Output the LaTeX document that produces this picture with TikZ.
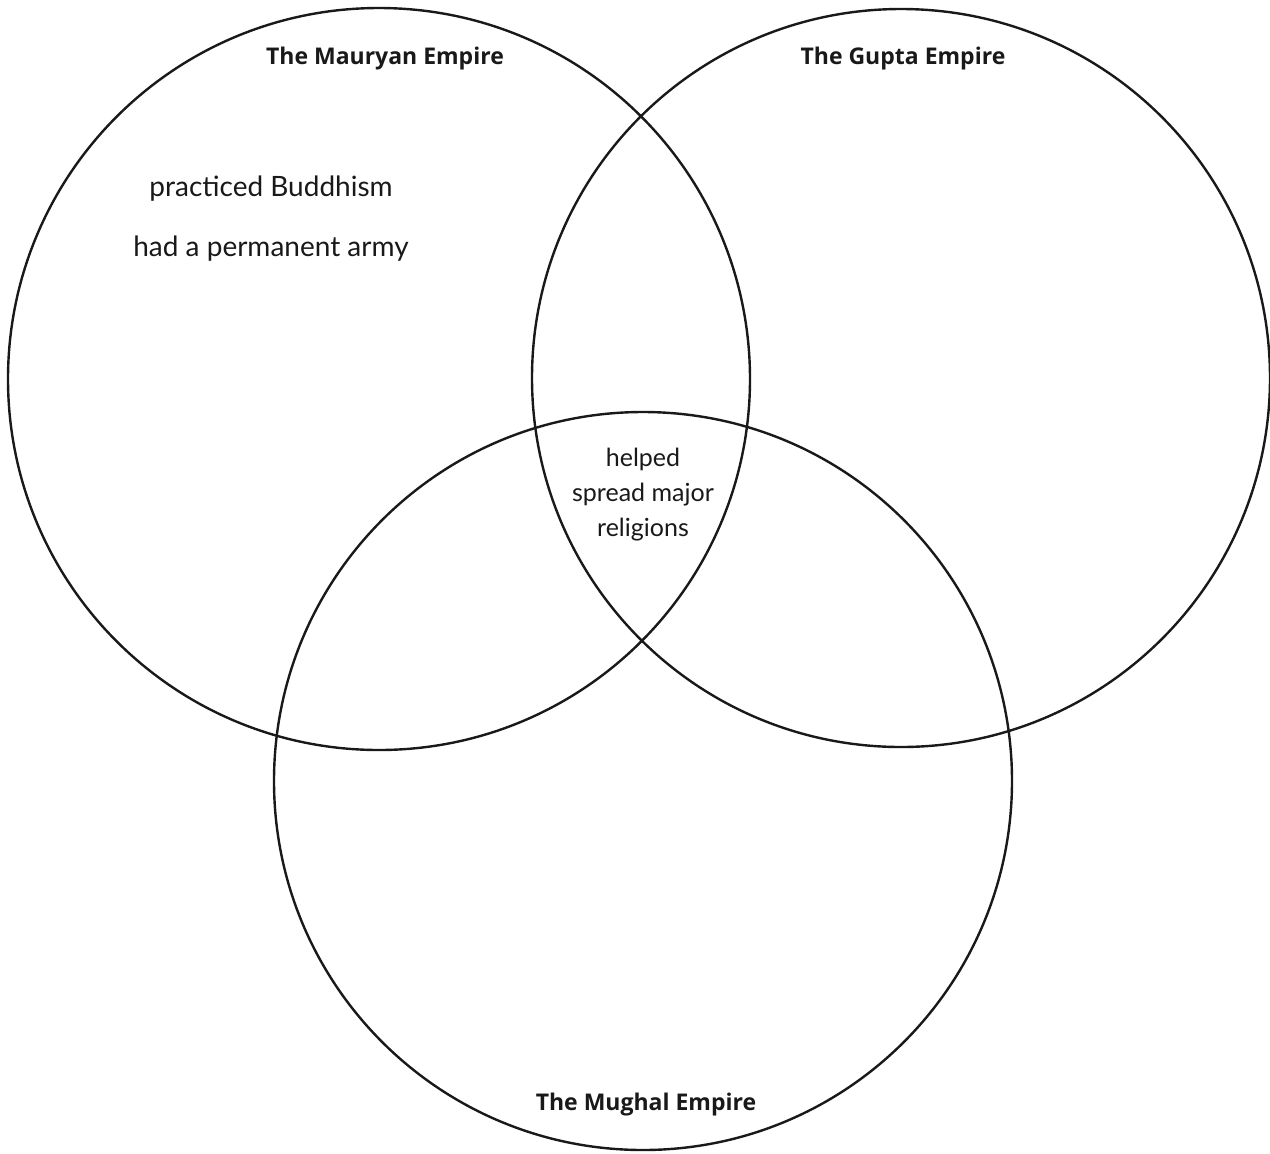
\documentclass[tikz,border=0pt]{standalone}
\usepackage{fontspec}
\setmainfont{Open Sans}
\newfontfamily\handfont{Lato}
\begin{document}
\begin{tikzpicture}[x=0.5pt,y=0.5pt,
  ring/.style={draw=black!90, line width=1.2pt},
  title/.style={font=\fontsize{11.5}{13}\selectfont\bfseries, text=black!90, inner sep=0pt},
  hand/.style={font=\handfont\fontsize{14}{17.5}\selectfont, text=black!90, inner sep=0pt, align=center},
  handmid/.style={hand, font=\handfont\fontsize{12.5}{17.5}\selectfont}]
\useasboundingbox (0,0) rectangle (1270,-1153);
\draw[ring] (379,-379) circle[radius=185.5pt];
\draw[ring] (901,-378) circle[radius=184.5pt];
\draw[ring] (643,-781) circle[radius=184.5pt];
\node[title] (maurya) at (385,-59) {The Mauryan Empire};
\node[title] (gupta) at (903,-59) {The Gupta Empire};
\node[title] (mughal) at (646,-1105) {The Mughal Empire};
\node[hand] (buddh) at (271,-189) {practiced Buddhism};
\node[hand] (army) at (271,-249) {had a permanent army};
\node[handmid] (spread) at (643,-495) {helped\\spread major\\religions};
\end{tikzpicture}
\end{document}
